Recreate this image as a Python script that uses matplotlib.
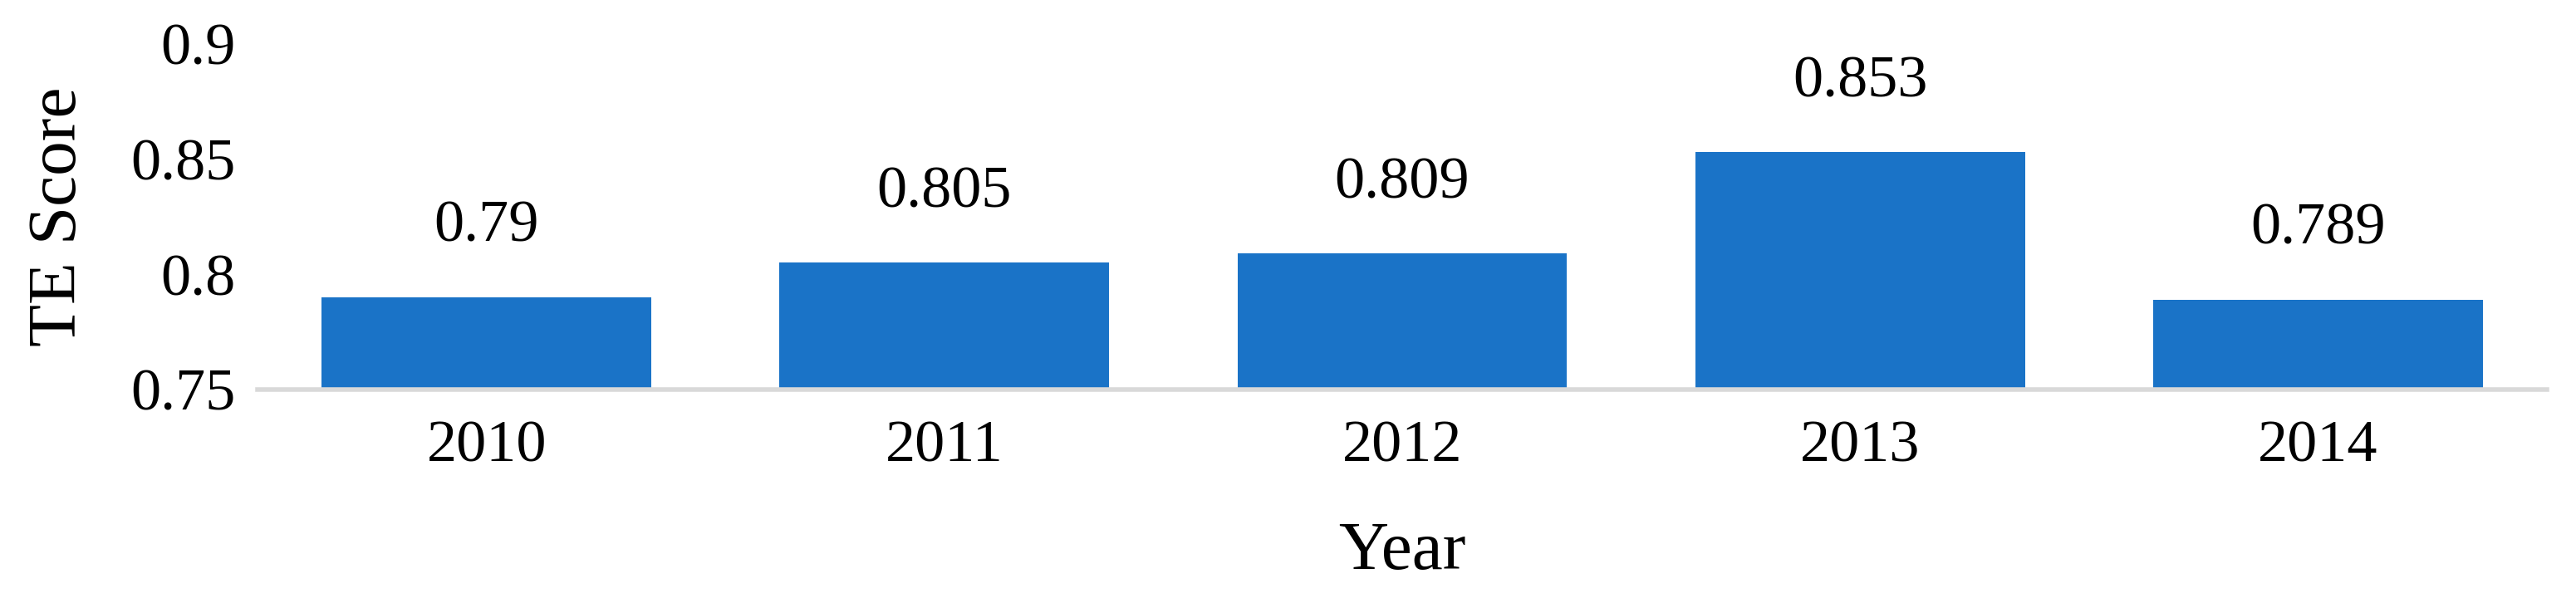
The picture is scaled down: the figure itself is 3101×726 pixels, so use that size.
import matplotlib.pyplot as plt

years = ['2010', '2011', '2012', '2013', '2014']
te_score = [0.79, 0.805, 0.809, 0.853, 0.789]
value_labels = ['0.79', '0.805', '0.809', '0.853', '0.789']

plt.rcParams['font.family'] = ['Liberation Serif', 'DejaVu Serif']

fig = plt.figure(figsize=(31.01, 7.26), dpi=100)
ax = fig.add_axes([0.1, 0.354, 0.8887, 0.573])

bars = ax.bar(years, te_score, width=0.72, color='#1a73c7', bottom=0)
ax.set_ylim(0.75, 0.9)
ax.set_xlim(-0.5, 4.5)
ax.set_yticks([0.75, 0.8, 0.85, 0.9])
ax.set_yticklabels(['0.75', '0.8', '0.85', '0.9'])

# value labels above the bars
for i, v in enumerate(te_score):
    ax.annotate(value_labels[i], (i, v), xytext=(0, 61), textcoords='offset points',
                ha='center', va='center', fontsize=52)

for s in ['top', 'right', 'left']:
    ax.spines[s].set_visible(False)
ax.spines['bottom'].set_color('#d9d9d9')
ax.spines['bottom'].set_linewidth(4)
ax.tick_params(axis='both', length=0, labelsize=52)
ax.tick_params(axis='y', pad=19)
ax.tick_params(axis='x', pad=26)

ax.set_xlabel('Year', fontsize=60)
ax.set_ylabel('TE Score', fontsize=60)
ax.xaxis.set_label_coords(0.5, -0.38)
ax.yaxis.set_label_coords(-0.073, 0.5)

fig.savefig('out.png', dpi=100)
